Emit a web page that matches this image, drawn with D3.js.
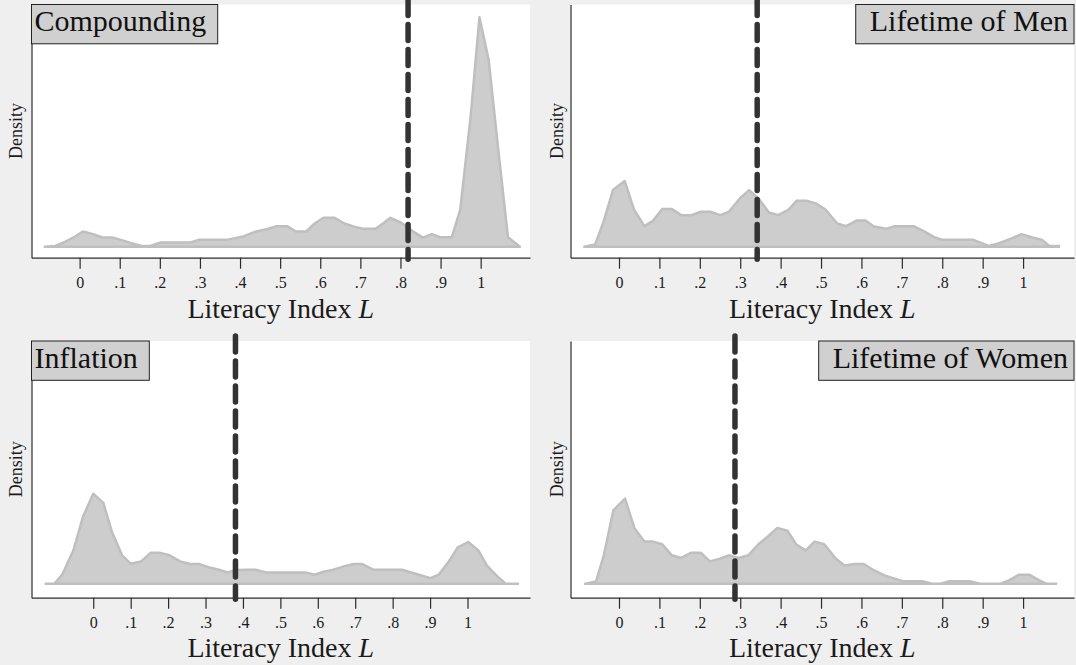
<!DOCTYPE html>
<html>
<head>
<meta charset="utf-8">
<script src="https://cdn.jsdelivr.net/npm/d3@7"></script>
<style>
  body { margin: 0; background: #efefef; }
  svg { display: block; font-family: "Liberation Serif", "Times New Roman", serif; }
</style>
</head>
<body>
<svg width="1076" height="665"></svg>
<script>
// panel titles and the dashed reference line (mean L) of each panel
const titles = ["Compounding", "Lifetime of Men", "Inflation", "Lifetime of Women"];
const means = [0.819, 0.342, 0.380, 0.287];

const tickVals = [0, 0.1, 0.2, 0.3, 0.4, 0.5, 0.6, 0.7, 0.8, 0.9, 1];
const tickLabels = ["0", ".1", ".2", ".3", ".4", ".5", ".6", ".7", ".8", ".9", "1"];

// density curves (x = literacy index, d = density)
const xCompounding = [-0.087, -0.061, -0.040, -0.014, 0.008, 0.034, 0.055, 0.081, 0.103, 0.129, 0.155, 0.176, 0.202, 0.232, 0.276, 0.297, 0.366, 0.405, 0.440, 0.466, 0.491, 0.517, 0.539, 0.565, 0.586, 0.608, 0.636, 0.660, 0.681, 0.707, 0.738, 0.759, 0.775, 0.802, 0.833, 0.856, 0.878, 0.899, 0.928, 0.949, 0.975, 0.997, 1.020, 1.044, 1.068, 1.098];
const dCompounding = [0, 0.02, 0.11, 0.25, 0.40, 0.33, 0.25, 0.24, 0.18, 0.09, 0.02, 0.02, 0.11, 0.11, 0.11, 0.18, 0.18, 0.26, 0.40, 0.46, 0.54, 0.54, 0.40, 0.40, 0.61, 0.76, 0.76, 0.61, 0.54, 0.47, 0.47, 0.63, 0.76, 0.63, 0.39, 0.24, 0.33, 0.25, 0.25, 0.97, 3.42, 6.04, 4.91, 2.54, 0.25, 0];

const xMen = [-0.086, -0.059, -0.039, -0.015, 0.014, 0.037, 0.063, 0.084, 0.107, 0.131, 0.154, 0.179, 0.203, 0.226, 0.251, 0.272, 0.299, 0.322, 0.347, 0.371, 0.394, 0.419, 0.440, 0.464, 0.487, 0.511, 0.540, 0.562, 0.589, 0.610, 0.631, 0.661, 0.682, 0.729, 0.754, 0.780, 0.801, 0.877, 0.915, 0.941, 0.970, 0.996, 1.021, 1.047, 1.065, 1.089];
const dMen = [0, 0.06, 0.63, 1.49, 1.73, 0.98, 0.54, 0.68, 0.99, 0.99, 0.83, 0.83, 0.92, 0.92, 0.83, 0.92, 1.27, 1.49, 1.25, 0.90, 0.83, 0.97, 1.21, 1.21, 1.14, 0.98, 0.61, 0.54, 0.69, 0.69, 0.53, 0.47, 0.54, 0.54, 0.41, 0.25, 0.18, 0.18, 0.02, 0.09, 0.21, 0.33, 0.25, 0.18, 0.02, 0.02];

const xInflation = [-0.127, -0.104, -0.083, -0.053, -0.028, 0.000, 0.027, 0.050, 0.077, 0.100, 0.128, 0.154, 0.177, 0.204, 0.232, 0.259, 0.282, 0.314, 0.336, 0.359, 0.379, 0.411, 0.434, 0.461, 0.517, 0.567, 0.592, 0.613, 0.641, 0.664, 0.696, 0.719, 0.749, 0.825, 0.852, 0.877, 0.901, 0.923, 0.949, 0.974, 1.002, 1.029, 1.052, 1.077, 1.102, 1.135];
const dInflation = [0, 0, 0.24, 0.88, 1.75, 2.37, 2.13, 1.36, 0.75, 0.53, 0.59, 0.82, 0.82, 0.75, 0.59, 0.52, 0.52, 0.42, 0.37, 0.30, 0.36, 0.37, 0.37, 0.30, 0.30, 0.30, 0.24, 0.31, 0.37, 0.44, 0.52, 0.52, 0.37, 0.37, 0.29, 0.22, 0.15, 0.24, 0.57, 0.96, 1.10, 0.88, 0.48, 0.22, 0, 0];

const xWomen = [-0.084, -0.057, -0.038, -0.014, 0.015, 0.038, 0.063, 0.084, 0.107, 0.131, 0.154, 0.179, 0.202, 0.225, 0.250, 0.271, 0.297, 0.320, 0.345, 0.369, 0.392, 0.417, 0.438, 0.462, 0.484, 0.508, 0.537, 0.558, 0.585, 0.606, 0.628, 0.657, 0.678, 0.703, 0.750, 0.775, 0.796, 0.817, 0.868, 0.893, 0.943, 0.965, 0.990, 1.015, 1.040, 1.059, 1.082];
const dWomen = [0, 0.06, 0.73, 1.93, 2.24, 1.47, 1.11, 1.11, 1.04, 0.75, 0.68, 0.82, 0.82, 0.59, 0.66, 0.75, 0.68, 0.75, 1.04, 1.25, 1.47, 1.40, 1.04, 0.88, 1.11, 1.04, 0.66, 0.48, 0.52, 0.52, 0.37, 0.22, 0.15, 0.07, 0.07, 0, 0, 0.07, 0.07, 0, 0, 0.09, 0.24, 0.24, 0.09, 0, 0];

// layout
const cols = [
    { left: 31.5, right: 530, densX: 22 },
    { left: 570.5, right: 1074, densX: 563 }
];
const rows = [
    { top: 4.5, axis: 257.7, base: 246.7, xlab: 318 },
    { top: 341, axis: 597.7, base: 583.8, xlab: 657 }
];
const pxPerUnit = 38;

const panels = [
    { title: titles[0], xs: xCompounding, ds: dCompounding, mean: means[0], col: 0, row: 0, dom: [-0.12, 1.123] },
    { title: titles[1], xs: xMen, ds: dMen, mean: means[1], col: 1, row: 0, dom: [-0.12, 1.126] },
    { title: titles[2], xs: xInflation, ds: dInflation, mean: means[2], col: 0, row: 1, dom: [-0.165, 1.167] },
    { title: titles[3], xs: xWomen, ds: dWomen, mean: means[3], col: 1, row: 1, dom: [-0.12, 1.126] }
];

const svg = d3.select("svg");

panels.forEach(function(p) {
    const c = cols[p.col];
    const r = rows[p.row];
    const g = svg.append("g");

    const x = d3.scaleLinear().domain(p.dom).range([c.left, c.right]);
    // y: baseline of the densities sits a little above the axis line
    const y = d3.scaleLinear()
        .domain([-(r.axis - r.base) / pxPerUnit, (r.base - r.top) / pxPerUnit])
        .range([r.axis, r.top]);

    // plot region
    g.append("rect")
        .attr("x", c.left)
        .attr("y", r.top)
        .attr("width", c.right - c.left)
        .attr("height", r.axis - r.top + 1)
        .attr("fill", "#ffffff");

    // density area
    const pts = p.xs.map((v, i) => [v, p.ds[i]]);
    const area = d3.area()
        .x(d => x(d[0]))
        .y0(y(0))
        .y1(d => y(d[1]));
    g.append("path")
        .datum(pts)
        .attr("d", area)
        .attr("fill", "#cdcdcd")
        .attr("stroke", "#bfbfbf")
        .attr("stroke-width", 2.5)
        .attr("stroke-linejoin", "round");

    // axes
    const xAxis = g.append("g")
        .attr("transform", `translate(0, ${r.axis})`)
        .call(d3.axisBottom(x)
            .tickValues(tickVals)
            .tickFormat((d, i) => tickLabels[i])
            .tickSize(11)
            .tickSizeOuter(0));
    xAxis.select(".domain").attr("stroke", "#2a2a2a").attr("stroke-width", 1.2);
    xAxis.selectAll(".tick line").attr("stroke", "#2a2a2a").attr("stroke-width", 1.2);
    xAxis.selectAll(".tick text")
        .attr("y", 30)
        .attr("dy", 0)
        .attr("fill", "#1a1a1a")
        .style("font-family", "'Liberation Serif', serif")
        .style("font-size", "16px");

    const yAxis = g.append("g")
        .attr("transform", `translate(${c.left}, 0)`)
        .call(d3.axisLeft(y).tickValues([]).tickSizeOuter(0));
    yAxis.select(".domain").attr("stroke", "#2a2a2a").attr("stroke-width", 1.2);

    // dashed mean line
    g.append("line")
        .attr("x1", x(p.mean))
        .attr("x2", x(p.mean))
        .attr("y1", r.top - 5)
        .attr("y2", r.axis + 1.5)
        .attr("stroke", "#333333")
        .attr("stroke-width", 5.5)
        .attr("stroke-linecap", "round")
        .attr("stroke-dasharray", "16,9");

    // axis titles
    g.append("text")
        .attr("transform", `translate(${c.densX}, ${(r.top + r.axis) / 2}) rotate(-90)`)
        .attr("text-anchor", "middle")
        .attr("fill", "#1a1a1a")
        .style("font-size", "18px")
        .text("Density");

    const xl = g.append("text")
        .attr("x", (c.left + c.right) / 2)
        .attr("y", r.xlab)
        .attr("text-anchor", "middle")
        .attr("fill", "#1a1a1a")
        .style("font-size", "28px");
    xl.append("tspan").text("Literacy Index ");
    xl.append("tspan").style("font-style", "italic").text("L");

    // title box
    const box = g.append("rect")
        .attr("y", r.top)
        .attr("height", 39.3)
        .attr("fill", "#d0d0d0")
        .attr("stroke", "#222222")
        .attr("stroke-width", 1);
    const tt = g.append("text")
        .attr("y", r.top + 26.5)
        .attr("fill", "#111111")
        .style("font-size", "30px")
        .text(p.title);
    const len = tt.node().getComputedTextLength();
    if (p.col === 0) {
        box.attr("x", c.left).attr("width", len + 14.5);
        tt.attr("x", c.left + 3);
    } else {
        box.attr("x", c.right - len - 20).attr("width", len + 20);
        tt.attr("x", c.right - 6).attr("text-anchor", "end");
    }
});
</script>
</body>
</html>
